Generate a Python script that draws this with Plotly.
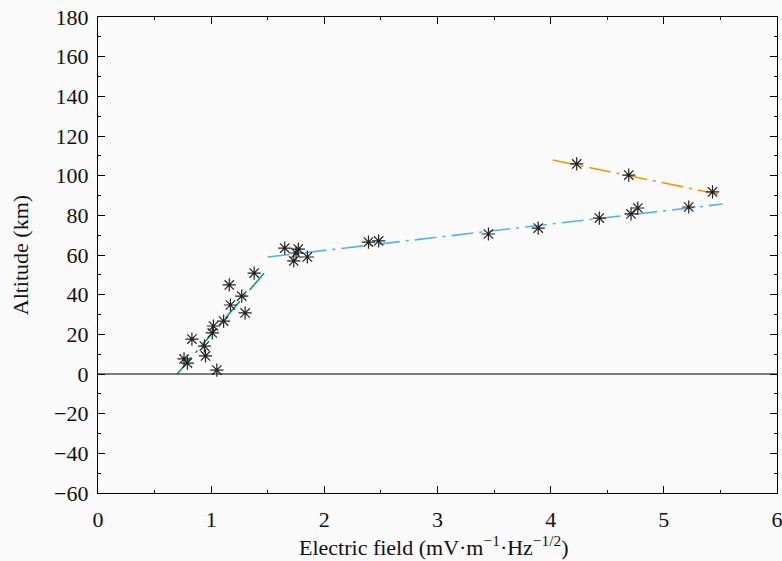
import plotly.graph_objects as go

# Measured points: electric field (mV m^-1 Hz^-1/2) vs altitude (km)
field = [4.23, 4.69, 5.43, 5.22, 4.77, 4.71, 4.43, 3.89, 3.45, 2.48, 2.39,
         1.65, 1.77, 1.75, 1.73, 1.85, 1.38, 1.16, 1.27, 1.17, 1.30, 1.11,
         1.02, 1.01, 0.83, 0.94, 0.95, 0.76, 0.79, 1.05]
altitude = [105.9, 100.3, 91.8, 84.2, 83.7, 80.7, 78.6, 73.6, 70.6, 67.1, 66.5,
            63.5, 63.0, 61.0, 57.0, 59.0, 50.9, 44.9, 39.3, 34.8, 30.8, 26.7,
            24.2, 20.7, 17.6, 14.1, 9.1, 7.6, 5.5, 2.0]

# Fit segments (endpoints)
low_x = [0.70, 1.47]
low_y = [0.0, 51.0]
mid_x = [1.50, 5.52]
mid_y = [59.0, 85.7]
high_x = [4.02, 5.48]
high_y = [107.9, 90.7]

FONT = "Liberation Serif"
FS = 22
dash = "22px,6px,3px,6px"

fig = go.Figure()
fig.add_trace(go.Scatter(x=low_x, y=low_y, mode="lines",
                         line=dict(color="#009E73", width=1.6, dash=dash), showlegend=False))
fig.add_trace(go.Scatter(x=mid_x, y=mid_y, mode="lines",
                         line=dict(color="#56B4E9", width=1.6, dash=dash), showlegend=False))
fig.add_trace(go.Scatter(x=high_x, y=high_y, mode="lines",
                         line=dict(color="#E69F00", width=1.6, dash=dash), showlegend=False))
fig.add_trace(go.Scatter(x=field, y=altitude, mode="markers",
                         marker=dict(symbol="asterisk-open", size=11, color="#222222",
                                     line=dict(color="#222222", width=1.2)),
                         showlegend=False))

fig.add_hline(y=0, line=dict(color="black", width=1.2))

axis_common = dict(showgrid=False, zeroline=False, showline=True, linecolor="black",
                   linewidth=1.2, mirror="allticks", ticks="inside", ticklen=7,
                   tickwidth=1, tickcolor="black", automargin=False,
                   ticklabeloverflow="allow",
                   tickfont=dict(family=FONT, size=FS, color="#111111"))

fig.update_xaxes(range=[0, 6], dtick=1, tick0=0, ticklabelstandoff=6,
                 minor=dict(dtick=0.5, ticks="inside", ticklen=3, tickcolor="black"),
                 **axis_common)
fig.update_yaxes(range=[-60, 180], dtick=20, tick0=0, ticklabelstandoff=4,
                 minor=dict(dtick=10, ticks="inside", ticklen=3, tickcolor="black"),
                 **axis_common)

fig.add_annotation(text="Electric field (mV·m<sup>−1</sup>·Hz<sup>−1/2</sup>)",
                   xref="paper", yref="paper", x=0.4955, y=-0.112, yanchor="middle",
                   showarrow=False, font=dict(family=FONT, size=FS, color="#111111"))
fig.add_annotation(text="Altitude (km)", textangle=-90,
                   xref="paper", yref="paper", x=-0.1145, y=0.5, xanchor="center",
                   showarrow=False, font=dict(family=FONT, size=FS, color="#111111"))

fig.update_layout(width=782, height=561, margin=dict(l=98, r=5, t=17, b=68),
                  paper_bgcolor="#fafafa", plot_bgcolor="#fafafa",
                  font=dict(family=FONT, size=FS))

fig.write_html("out.html")
